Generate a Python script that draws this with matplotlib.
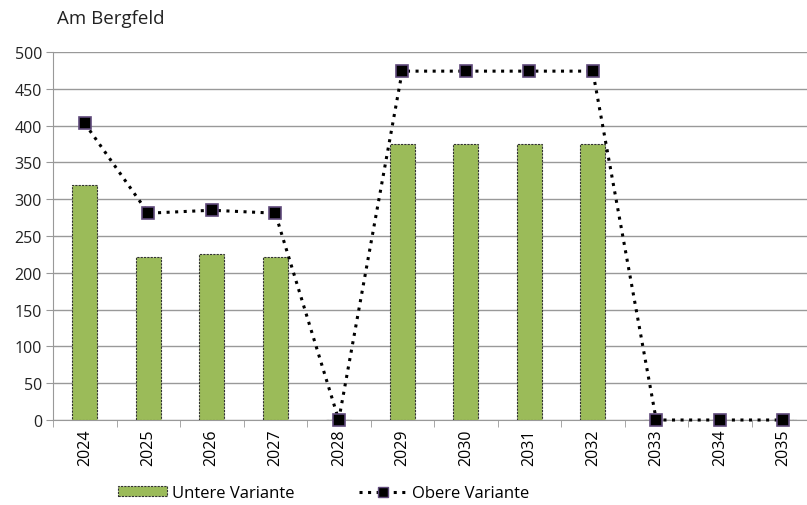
import matplotlib
matplotlib.use("Agg")
import matplotlib.pyplot as plt
from matplotlib.lines import Line2D
from matplotlib.patches import Patch

plt.rcParams['font.family'] = ['Open Sans', 'DejaVu Sans']

years = ['2024', '2025', '2026', '2027', '2028', '2029', '2030', '2031', '2032', '2033', '2034', '2035']
untere = [319, 221, 225, 221, 0, 375, 375, 375, 375, 0, 0, 0]
obere = [403, 281, 285, 281, 0, 474, 474, 474, 474, 0, 0, 0]
title = 'Am Bergfeld'

W, H = 807, 506
fig = plt.figure(figsize=(W / 100, H / 100), dpi=100)
left, right, top, bottom = 53, 815, 53, 421
ax = fig.add_axes([left / W, 1 - bottom / H, (right - left) / W, (bottom - top) / H])

x = list(range(len(years)))
ax.bar(x, untere, width=0.4, color='#9bbb59', edgecolor='#333333', linestyle=(0, (2, 1)),
       linewidth=0.8, zorder=3)
ax.plot(x, obere, color='black', linestyle=(0, (1, 1.8)), linewidth=2.2, marker='s',
        markersize=8.5, markerfacecolor='black', markeredgecolor='#604a7b', markeredgewidth=1.2,
        zorder=4, clip_on=False)

ax.set_xlim(-0.5, len(years) - 0.5)
ax.set_ylim(0, 500)
ax.set_yticks(range(0, 501, 50))
ax.set_xticks(x)
ax.set_xticklabels(years, rotation=90, fontsize=11.5)
ax.set_xticks([i + 0.5 for i in range(-1, len(years))], minor=True)
ax.tick_params(axis='x', which='major', length=0, pad=6)
ax.tick_params(axis='x', which='minor', length=5, color='#999999', direction='out')
ax.tick_params(axis='y', length=5, color='#999999', labelsize=11.5, pad=3)
for lab in ax.get_yticklabels():
    lab.set_color('#222222')
ax.grid(axis='y', color='#999999', linewidth=1, zorder=0)
for s in ['top', 'right']:
    ax.spines[s].set_visible(False)
ax.spines['left'].set_color('#999999')
ax.spines['bottom'].set_color('#999999')

fig.text(57 / W, 1 - 19 / H, title, fontsize=13.5, va='center', ha='left', color='#222222')

handles = [Patch(facecolor='#9bbb59', edgecolor='#333333', linestyle=(0, (2, 1)), linewidth=0.8),
           Line2D([0], [0], color='black', linestyle=(0, (1, 1.8)), linewidth=2.2, marker='s',
                  markersize=7, markerfacecolor='black', markeredgecolor='#604a7b')]
fig.legend(handles, ['Untere Variante', 'Obere Variante'], loc='center', bbox_to_anchor=(324 / W, 1 - 494 / H),
           ncol=2, frameon=False, fontsize=12, handlelength=2.9, handleheight=0.55,
           columnspacing=3.9, handletextpad=0.3)

fig.savefig('out.png', dpi=100)
